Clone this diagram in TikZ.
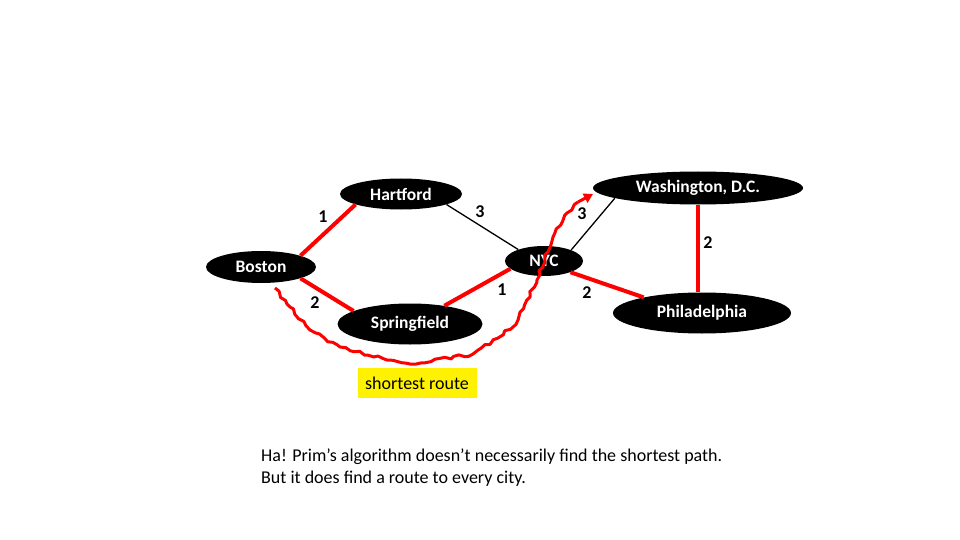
\documentclass[tikz,border=0pt]{standalone}
\usepackage{fontspec}
\setmainfont{Carlito}
\usetikzlibrary{shapes.geometric,decorations.pathmorphing,arrows.meta}
\begin{document}
\begin{tikzpicture}[x=1pt,y=-1pt,
  city/.style={ellipse,fill=black,text=white,inner sep=0pt,font=\fontsize{17.5}{20}\selectfont\bfseries},
  tree/.style={draw=red,line width=4pt},
  other/.style={draw=black,line width=1.3pt},
  wlabel/.style={font=\fontsize{18}{20}\selectfont\bfseries,inner sep=0pt}]
\useasboundingbox (0,0) rectangle (960,540);
\node[city,minimum width=122pt,minimum height=31pt] (Hartford) at (401,194) {Hartford};
\node[city,minimum width=110pt,minimum height=32pt] (Boston) at (261,267) {Boston};
\node[city,minimum width=78pt,minimum height=30pt] (NYC) at (544,261) {NYC};
\node[city,minimum width=145pt,minimum height=41pt] (Springfield) at (410,324) {Springfield};
\node[city,minimum width=210pt,minimum height=33pt] (Washington) at (698,188) {Washington, D.C.};
\node[city,minimum width=178pt,minimum height=41pt] (Philadelphia) at (702,313) {Philadelphia};
\draw[tree] (Boston.16) -- (Hartford.193);
\draw[tree] (Boston.-16) -- (Springfield.167);
\draw[other] (Hartford.-13) -- (NYC.156);
\draw[tree] (Springfield.28) -- (NYC.193);
\draw[other] (NYC.22) -- (Washington.187);
\draw[tree] (NYC.-23) -- (Philadelphia.165);
\draw[tree] (Washington.south) -- (Washington.south |- Philadelphia.north);
\node[wlabel] (l1) at (323,217) {1};
\node[wlabel] (l2) at (480,212) {3};
\node[wlabel] (l3) at (582,214) {3};
\node[wlabel] (l4) at (708,243) {2};
\node[wlabel] (l5) at (502,290) {1};
\node[wlabel] (l6) at (587,293) {2};
\node[wlabel] (l7) at (315,303) {2};
\coordinate (rstart) at (275,288);
\coordinate (rend) at (593,194);
\draw[red,line width=3pt,line join=round,
  decorate,decoration={random steps,segment length=5pt,amplitude=1.6pt}]
  (rstart) -- (290,307) -- (310,330) -- (340,347) -- (387,360) -- (410,364)
  -- (473,354) -- (513,327) -- (537,280) -- (553,237) -- (567,213) -- (578,202);
\draw[red,line width=3pt,-{Triangle[length=9pt,width=10pt]}] (578,202) -- (rend);
\node[fill=yellow,minimum width=119pt,minimum height=30pt,inner sep=0pt,font=\fontsize{18}{20}\selectfont] (route) at (417,383) {shortest route};
\node[anchor=north west,align=left,inner sep=0pt,font=\fontsize{18}{22}\selectfont] (note) at (261,449) {Ha! Prim’s algorithm doesn’t necessarily find the shortest path.\\But it does find a route to every city.};
\end{tikzpicture}
\end{document}
